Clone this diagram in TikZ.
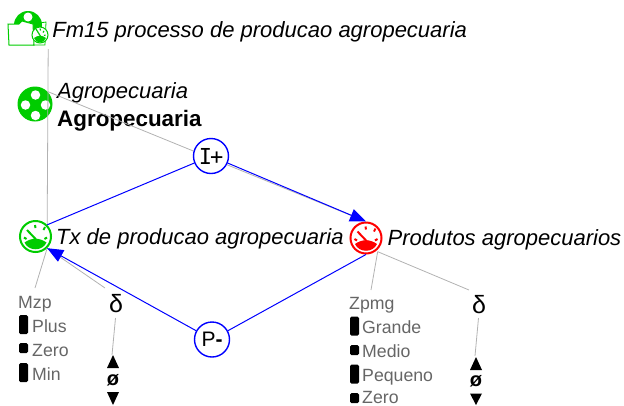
\documentclass[tikz,border=0pt]{standalone}
\usepackage{fontspec}
\setmainfont{Liberation Sans}
\newfontfamily\monofont{DejaVu Sans Mono}
\usetikzlibrary{arrows.meta,positioning}
\definecolor{icongreen}{RGB}{0,204,0}
\definecolor{iconred}{RGB}{255,0,0}
\definecolor{linkgray}{RGB}{178,178,178}
\definecolor{textgray}{RGB}{102,102,102}
\newcommand{\gaugeface}[1]{%
  \begin{scope}[shift={(path picture bounding box.center)}]
  \fill[#1] (-11,6) .. controls (-4,1) and (4,1) .. (11,6) .. controls (7,15) and (-7,15) .. cycle;
  \draw[#1,line width=2pt] (-8.5,-6.5) -- (1.5,4);
  \draw[#1,line width=2pt] (-11.5,1) -- (-9,2.5);
  \draw[#1,line width=2pt] (-0.5,-11.5) -- (0,-8.5);
  \draw[#1,line width=2pt] (9.5,-9.5) -- (8,-6.5);
  \draw[#1,line width=2pt] (11.5,1) -- (9,2.5);
  \end{scope}
}
\begin{document}
\begin{tikzpicture}[x=1pt,y=-1pt,
    gauge/.style={circle, draw=#1, line width=2pt, fill=white, minimum size=31pt, inner sep=0pt, path picture={\gaugeface{#1}}},
    hub/.style={circle, fill=icongreen, minimum size=35pt, inner sep=0pt},
    hole/.style={circle, fill=white, minimum size=9.5pt, inner sep=0pt},
    infl/.style={circle, draw=blue, line width=1.4pt, fill=white, minimum size=35pt, inner sep=0pt, font=\fontsize{21}{21}\selectfont},
    title/.style={font=\fontsize{22}{24}\selectfont\itshape, inner sep=0pt, anchor=west},
    qname/.style={font=\fontsize{17.7}{20}\selectfont, text=textgray, inner sep=0pt, anchor=base west},
    qbar/.style={fill=black, rounded corners=1.5pt, minimum width=9pt, inner sep=0pt},
    tall/.style={qbar, minimum height=19pt},
    short/.style={qbar, minimum height=10pt},
    deriv/.style={font=\fontsize{25}{25}\selectfont, inner sep=0pt},
    zerosign/.style={font=\fontsize{20}{20}\selectfont\bfseries, inner sep=0pt},
    link/.style={draw=linkgray, line width=0.8pt},
    influence/.style={draw=blue, line width=1pt},
    arrow/.style={influence, -{Triangle[length=16pt,width=13pt]}}
]
\useasboundingbox (0,0) rectangle (624,405);

% model fragment
\node[minimum size=40pt, inner sep=0pt] (fm) at (28,29) {};
\fill[icongreen] (28,25) circle (14);
\fill[white] (28,17) circle (4.5);
\draw[icongreen, line width=1pt, fill=white] (8,24) -- (19,24) -- (22,21) -- (33,24) -- (34,45) -- (9,45) -- cycle;
\draw[icongreen, line width=0.8pt] (33,24) -- (46,22) -- (45,45) -- (33,45);
\node[circle, draw=icongreen, line width=1pt, fill=white, minimum size=16pt, inner sep=0pt] (fmgauge) at (40,35) {};
\fill[icongreen] (34,38) .. controls (38,35) and (42,35) .. (46,38) .. controls (44,44) and (36,44) .. (34,38);
\draw[icongreen, line width=1.2pt] (36,29) -- (41,37);
\draw[icongreen, line width=1.2pt] (40,28.5) -- (40.5,30.5) (44,31) -- (43,32.5) (45.5,35) -- (44,35.5);
\node[title, right=4pt of fm.east, yshift=-3pt] (fmname) {Fm15 processo de producao agropecuaria};

% entity
\node[hub] (agro) at (35,104) {};
\node[hole] at (35.5,95) {};
\node[hole] at (25.5,105) {};
\node[hole] at (45.5,105) {};
\node[hole] at (35.5,115.5) {};
\node[title] (agroname) at (57,93) {Agropecuaria};
\node[title, font=\fontsize{22.4}{24}\selectfont\bfseries] (agrobold) at (57,121) {Agropecuaria};

% quantities
\node[gauge=icongreen] (tx) at (35.5,236.5) {};
\node[gauge=iconred] (prod) at (366,238) {};
\node[title, right=4pt of tx, yshift=-2pt] (txname) {Tx de producao agropecuaria};
\node[title, right=5pt of prod, yshift=-2pt] (prodname) {Produtos agropecuarios};

% quantity spaces
\node[qname] (mzp) at (18,308.5) {Mzp};
\node[tall] (plusbar) at (23.5,324.5) {};
\node[qname] (plus) at (32,332) {Plus};
\node[short] (zerobar) at (23.5,348) {};
\node[qname] (zero) at (32,356.5) {Zero};
\node[tall] (minbar) at (23.5,372.5) {};
\node[qname] (min) at (32,380.5) {Min};

\node[qname] (zpmg) at (349,309) {Zpmg};
\node[tall] (grandebar) at (354.5,326) {};
\node[qname] (grande) at (362,333.5) {Grande};
\node[short] (mediobar) at (354.5,350) {};
\node[qname] (medio) at (362,357) {Medio};
\node[tall] (pequenobar) at (354.5,374) {};
\node[qname] (pequeno) at (362,381) {Pequeno};
\node[short] (zerobarb) at (354.5,398) {};
\node[qname] (zerob) at (362,403.5) {Zero};

% derivatives
\node[deriv] (dtx) at (116,304) {δ};
\node[deriv] (dprod) at (479,305) {δ};
\node[zerosign] (otx) at (113,380) {ø};
\node[zerosign] (oprod) at (476,381) {ø};
\fill (107,368) -- (113,355) -- (119,368) -- cycle;
\fill (107,392) -- (119,392) -- (113,405) -- cycle;
\fill (470,370) -- (476,357) -- (482,370) -- cycle;
\fill (470,393.5) -- (482,393.5) -- (476,405) -- cycle;
\coordinate (uptx) at (112,355);
\coordinate (upprod) at (475,356);
\coordinate (mzptop) at (35,288);
\coordinate (dtxtop) at (105,288);
\coordinate (zpmgtop) at (371,290);
\coordinate (dprodtop) at (469,290);
\coordinate (dtxbot) at (115.5,318);
\coordinate (dprodbot) at (478.5,318);

\path[link] (fm.south east) -- (tx.45);
\path[link] (agro.45) -- (prod.north);
\path[link] (tx.-45) -- (mzptop);
\path[link] (tx.-45) -- (dtxtop);
\path[link] (dtxbot) -- (uptx);
\path[link] ([yshift=-2pt]prod.-45) -- (zpmgtop);
\path[link] ([yshift=-2pt]prod.-45) -- (dprodtop);
\path[link] (dprodbot) -- (upprod);

% influences
\node[infl] (ip) at (211,156) {\fontsize{22}{22}\monofont I\kern-2pt+};
\node[infl] (pm) at (212,339.5) {P\textbf{-}};
\draw[influence] (tx.45) -- (ip);
\draw[arrow] (ip) -- (prod.north);
\draw[influence] (pm) -- (prod.south);
\draw[arrow] (pm) -- (tx.-45);
\end{tikzpicture}
\end{document}
